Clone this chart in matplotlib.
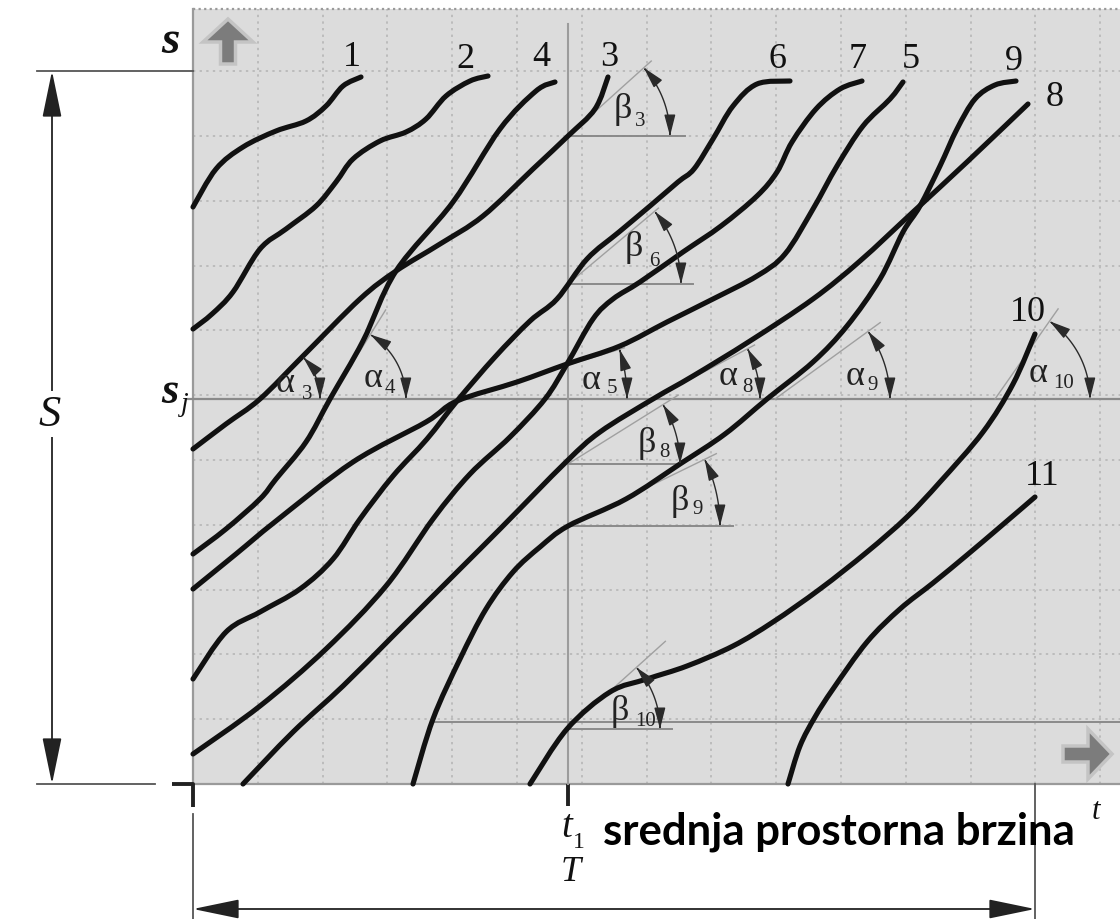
"""Time-space diagram of vehicle trajectories with the angles used for the
space-mean speed (srednja prostorna brzina).

Drawing units: t runs to the right, s upward, origin at the lower-left corner
of the shaded field. One grid cell is GRID units.
"""

import numpy as np
import matplotlib
matplotlib.use("Agg")
import matplotlib.pyplot as plt
from matplotlib.path import Path
from matplotlib.patches import PathPatch, FancyArrowPatch, FancyArrow, Rectangle

GRID = 64.8
FIELD_T = 927      # right edge of the shaded field
FIELD_S = 775      # top edge of the shaded field
S_TOP = 713        # section length S
S_J = 385          # observation point s_j
T_1 = 375          # observation instant t_1
T_END = 842        # observation period T

# trajectories (t, s)
v1_t = [0, 23, 50, 83, 113, 133, 150, 168]
v1_s = [577, 615, 637, 653, 663, 678, 698, 707]

v2_t = [0, 19, 40, 67, 93, 123, 143, 160, 187, 213, 233, 253, 277, 295]
v2_s = [455, 470, 492, 535, 555, 578, 602, 625, 643, 652, 665, 688, 703, 708]

v3_t = [0, 33, 67, 110, 167, 203, 247, 290, 340, 375, 402, 415]
v3_s = [335, 360, 385, 428, 485, 513, 540, 568, 615, 648, 675, 707]

v4_t = [0, 33, 67, 83, 113, 137, 170, 203, 260, 307, 343, 362]
v4_s = [230, 255, 285, 305, 342, 385, 443, 513, 582, 655, 693, 702]

v5_t = [0, 43, 83, 160, 233, 264, 324, 374, 427, 474, 520, 564, 592, 620, 644, 670, 697, 710]
v5_s = [195, 230, 263, 322, 362, 383, 402, 420, 438, 462, 485, 508, 530, 575, 618, 658, 685, 702]

v6_t = [0, 33, 67, 107, 140, 167, 200, 234, 264, 302, 337, 364, 394, 426, 457, 485, 501, 520, 540, 564, 597]
v6_s = [105, 152, 172, 195, 225, 265, 308, 345, 383, 427, 463, 485, 525, 552, 578, 602, 615, 645, 678, 700, 703]

v7_t = [0, 67, 133, 193, 240, 277, 317, 352, 374, 400, 420, 447, 490, 528, 564, 584, 599, 623, 647, 669]
v7_s = [30, 78, 135, 198, 265, 310, 347, 385, 420, 465, 485, 502, 532, 558, 588, 612, 642, 675, 695, 703]

v8_t = [50, 100, 150, 200, 267, 307, 373, 407, 460, 500, 557, 620, 667, 720, 774, 835]
v8_s = [0, 52, 98, 148, 215, 255, 322, 352, 385, 408, 443, 485, 523, 572, 622, 680]

v9_t = [220, 240, 267, 293, 320, 347, 375, 433, 487, 532, 574, 620, 654, 687, 710, 727, 747, 764, 782, 802, 823]
v9_s = [0, 65, 125, 175, 212, 237, 258, 285, 320, 350, 385, 422, 458, 505, 552, 578, 618, 655, 685, 699, 703]

v10_t = [337, 374, 417, 454, 494, 540, 580, 627, 674, 714, 747, 790, 820, 842]
v10_s = [0, 55, 92, 105, 118, 138, 162, 195, 232, 267, 302, 352, 400, 450]

v11_t = [595, 607, 622, 640, 674, 707, 740, 774, 807, 842]
v11_s = [0, 38, 67, 95, 142, 175, 201, 229, 257, 287]

trajectories = [(v1_t, v1_s), (v2_t, v2_s), (v3_t, v3_s), (v4_t, v4_s),
                (v5_t, v5_s), (v6_t, v6_s), (v7_t, v7_s), (v8_t, v8_s),
                (v9_t, v9_s), (v10_t, v10_s), (v11_t, v11_s)]

# trajectory numbers and where they are written
label_text = ["1", "2", "3", "4", "5", "6", "7", "8", "9", "10", "11"]
label_t = [159, 272, 416, 348, 718, 584, 665, 862, 821, 835, 849]
label_s = [727, 725, 727, 727, 725, 725, 725, 687, 723, 472, 308]

# angle markers: symbol, index, vertex (t, s), arc radius, angle in degrees,
# tangent length, length of the horizontal reference (0 = s_j line is used)
angles = [
    ("α", "3", 67, S_J, 60, 44, 70, 0),
    ("α", "4", 137, S_J, 76, 58, 105, 0),
    ("α", "5", 264, S_J, 170, 17, 175, 0),
    ("α", "8", 460, S_J, 107, 28, 115, 0),
    ("α", "9", 582, S_J, 115, 36, 130, 0),
    ("α", "10", 802, S_J, 95, 55, 110, 0),
    ("β", "3", T_1, 648, 102, 42, 112, 117),
    ("β", "6", T_1, 500, 113, 40, 118, 125),
    ("β", "8", T_1, 320, 112, 32, 130, 112),
    ("β", "9", T_1, 258, 152, 26, 165, 165),
    ("β", "10", T_1, 55, 92, 42, 131, 104),
]
angle_sym_pos = [(92, 401), (180, 406), (398, 404), (535, 408), (662, 408), (845, 411),
                 (430, 676), (441, 538), (454, 341), (487, 284), (427, 73)]
angle_sub_pos = [(114, 390), (197, 396), (419, 396), (554, 397), (680, 399), (871, 401),
                 (447, 664), (461, 524), (471, 332), (505, 276), (453, 63)]

SERIF = "Liberation Serif"
INK = "#111111"


def smooth_path(t, s):
    """Catmull-Rom style cubic Bezier through the given points."""
    p = np.column_stack([t, s]).astype(float)
    n = len(p)
    verts, codes = [p[0]], [Path.MOVETO]
    for i in range(n - 1):
        p0 = p[i - 1] if i > 0 else p[i]
        p3 = p[i + 2] if i + 2 < n else p[i + 1]
        verts += [p[i] + (p[i + 1] - p0) / 6, p[i + 1] - (p3 - p[i]) / 6, p[i + 1]]
        codes += [Path.CURVE4] * 3
    return Path(verts, codes)


def dim_arrow(ax, a, b):
    ax.add_patch(FancyArrowPatch(a, b, arrowstyle="<|-|>,head_length=1.45,head_width=0.3",
                                 mutation_scale=20, lw=1.3, color="#222222",
                                 shrinkA=0, shrinkB=0, clip_on=False, zorder=6))


fig = plt.figure(figsize=(11.2, 9.2), dpi=100)
ax = fig.add_axes([0, 0, 1, 1])
ax.set_xlim(-193, 927)
ax.set_ylim(-135, 785)
ax.axis("off")

# shaded field with dotted grid
ax.add_patch(Rectangle((0, 0), FIELD_T, FIELD_S, fc="#dcdcdc", ec="none", zorder=0))
for k in range(1, 15):
    ax.plot([k * GRID, k * GRID], [0, FIELD_S], color="#bcbcbc", lw=1.4,
            ls=(0, (1.2, 2.2)), zorder=1)
for k in range(1, 12):
    ax.plot([0, FIELD_T], [k * GRID, k * GRID], color="#bcbcbc", lw=1.4,
            ls=(0, (1.2, 2.2)), zorder=1)
ax.plot([0, FIELD_T], [FIELD_S, FIELD_S], color="#9a9a9a", lw=1.6, ls=(0, (1, 1.5)), zorder=1)
ax.plot([0, 0], [0, FIELD_S], color="#9a9a9a", lw=1.6, zorder=2)
ax.plot([0, FIELD_T], [0, 0], color="#9a9a9a", lw=1.6, zorder=2)

# reference lines
ax.plot([-5, FIELD_T], [S_J, S_J], color="#8a8a8a", lw=1.6, zorder=3)
ax.plot([T_1, T_1], [0, 760], color="#9c9c9c", lw=1.5, zorder=3)
ax.plot([240, FIELD_T], [62, 62], color="#8a8a8a", lw=1.4, zorder=3)

# direction arrows
ax.add_patch(FancyArrow(35, 720, 0, 45, width=15, head_width=50, head_length=23,
                        length_includes_head=True, fc="#7c7c7c", ec="#c4c4c4",
                        lw=2.5, zorder=3))
ax.add_patch(FancyArrow(870, 30, 49, 0, width=16, head_width=50, head_length=24,
                        length_includes_head=True, fc="#7c7c7c", ec="#c4c4c4",
                        lw=2.5, zorder=3))

# angle markers
for i, (sym, idx, t0, s0, r, ang, tan_len, base) in enumerate(angles):
    a = np.radians(np.linspace(ang, 0, 50))
    arc = Path(np.column_stack([t0 + r * np.cos(a), s0 + r * np.sin(a)]))
    ax.add_patch(FancyArrowPatch(path=arc, arrowstyle="<|-|>,head_length=0.65,head_width=0.17",
                                 mutation_scale=20, lw=1.0, color="#2a2a2a", zorder=6))
    ta = np.radians(ang)
    ax.plot([t0, t0 + tan_len * np.cos(ta)], [s0, s0 + tan_len * np.sin(ta)],
            color="#a0a0a0", lw=1.0, zorder=4)
    if base:
        ax.plot([t0, t0 + base], [s0, s0], color="#8a8a8a", lw=1.4, zorder=4)
    ax.text(*angle_sym_pos[i], sym, family=SERIF, fontsize=26, color="#222222",
            ha="center", va="center", zorder=7)
    ax.text(*angle_sub_pos[i], idx, family=SERIF, fontsize=15, color="#222222",
            ha="center", va="center", zorder=7)

# trajectories
for t, s in trajectories:
    ax.add_patch(PathPatch(smooth_path(t, s), fill=False, ec=INK, lw=3.7,
                           capstyle="round", joinstyle="round", zorder=5))
for txt, t, s in zip(label_text, label_t, label_s):
    ax.text(t, s, txt, family=SERIF, fontsize=26, color=INK, ha="center", va="center", zorder=7)

# dimension S on the left
ax.plot([-156, 0], [S_TOP, S_TOP], color="#555555", lw=1.3, clip_on=False)
ax.plot([-156, -38], [0, 0], color="#555555", lw=1.3, clip_on=False)
ax.plot([-21, 0, 0], [0, 0, -23], color="#222222", lw=2.8, solid_capstyle="butt", clip_on=False)
dim_arrow(ax, (-141, 0), (-141, S_TOP))
ax.text(-143, 370, "S", family=SERIF, style="italic", fontsize=32, color=INK,
        ha="center", va="center", zorder=7,
        bbox=dict(fc="white", ec="none", pad=2))
ax.text(-23, 743, "s", family=SERIF, style="italic", weight="bold", fontsize=34,
        color=INK, ha="center", va="center")
ax.text(-23, 393, "s", family=SERIF, style="italic", weight="bold", fontsize=32,
        color=INK, ha="center", va="center")
ax.text(-8, 380, "j", family=SERIF, style="italic", fontsize=20, color=INK,
        ha="center", va="center")

# dimension T at the bottom
ax.plot([0, 0], [-30, -135], color="#555555", lw=1.3, clip_on=False)
ax.plot([T_END, T_END], [0, -135], color="#555555", lw=1.3, clip_on=False)
ax.plot([T_1, T_1], [0, -22], color="#222222", lw=2.8, solid_capstyle="butt", clip_on=False)
dim_arrow(ax, (0, -125), (T_END, -125))
ax.text(378, -88, "T", family=SERIF, style="italic", fontsize=26, color=INK,
        ha="center", va="center")
ax.text(374, -43, "t", family=SERIF, style="italic", fontsize=28, color=INK,
        ha="center", va="center")
ax.text(386, -58, "1", family=SERIF, fontsize=17, color=INK, ha="center", va="center")
ax.text(903, -27, "t", family=SERIF, style="italic", fontsize=22, color=INK,
        ha="center", va="center", zorder=7)
ax.text(410, -60, "srednja prostorna brzina", family="Lato", weight="bold",
        fontsize=31.5, color="black", ha="left", va="baseline", zorder=8)

fig.savefig("out.png", dpi=100)
